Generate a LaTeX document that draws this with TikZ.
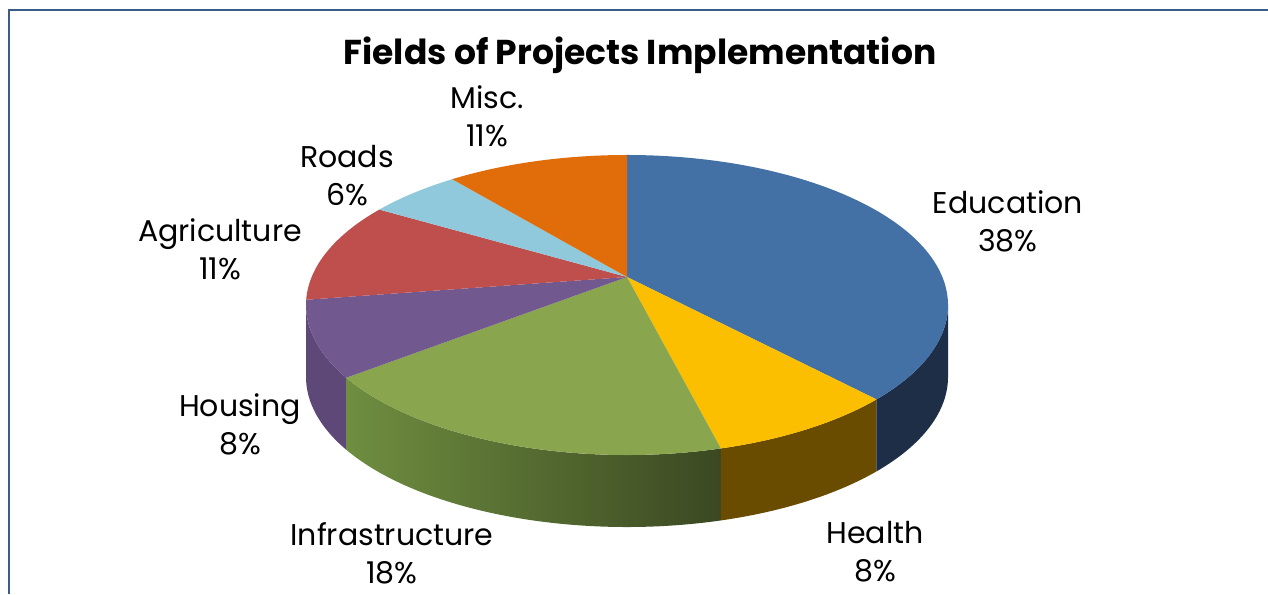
\documentclass[tikz,border=0pt]{standalone}
\usepackage{fontspec}
\setmainfont{Poppins}
\usetikzlibrary{calc}

\definecolor{frameblue}{HTML}{3A5C86}
\definecolor{eduTop}{HTML}{4471A5}
\definecolor{eduSide}{HTML}{1D2E46}
\definecolor{healthTop}{HTML}{FBBF00}
\definecolor{healthSide}{HTML}{6A4C00}
\definecolor{infraTop}{HTML}{89A54E}
\definecolor{infraSideL}{HTML}{6F8E40}
\definecolor{infraSideR}{HTML}{3B4822}
\definecolor{houseTop}{HTML}{71588F}
\definecolor{houseSide}{HTML}{5D4877}
\definecolor{agriTop}{HTML}{BE4F4C}
\definecolor{roadsTop}{HTML}{90C9DB}
\definecolor{miscTop}{HTML}{E06C0A}

\begin{document}
\begin{tikzpicture}[x=1pt, y=1pt,
	lbl/.style={align=center, font=\fontsize{30}{38}\selectfont},
	rim/.style={x radius=321, y radius=150}]

	\useasboundingbox (0,0) rectangle (1268,594);
	\draw[line width=2.5pt, color=frameblue] (9,0) -- (9,584) -- (1268,584);

	\coordinate (C) at (627,289);
	\coordinate (A) at (627,317);

	% sides
	\fill[houseSide] ($(C)+(180:321 and 150)$) arc[start angle=180, end angle=209, rim] -- ++(0,-72) arc[start angle=209, end angle=180, rim] -- cycle;
	\shade[left color=infraSideL, right color=infraSideR] ($(C)+(209:321 and 150)$) arc[start angle=209, end angle=287, rim] -- ++(0,-72) arc[start angle=287, end angle=209, rim] -- cycle;
	\fill[healthSide] ($(C)+(287:321 and 150)$) arc[start angle=287, end angle=321, rim] -- ++(0,-72) arc[start angle=321, end angle=287, rim] -- cycle;
	\fill[eduSide] ($(C)+(321:321 and 150)$) arc[start angle=321, end angle=360, rim] -- ++(0,-72) arc[start angle=360, end angle=321, rim] -- cycle;

	% top faces
	\fill[eduTop] (A) -- ($(C)+(321:321 and 150)$) arc[start angle=321, end angle=450, rim] -- cycle;
	\fill[healthTop] (A) -- ($(C)+(287:321 and 150)$) arc[start angle=287, end angle=321, rim] -- cycle;
	\fill[infraTop] (A) -- ($(C)+(209:321 and 150)$) arc[start angle=209, end angle=287, rim] -- cycle;
	\fill[houseTop] (A) -- ($(C)+(178:321 and 150)$) arc[start angle=178, end angle=209, rim] -- cycle;
	\fill[agriTop] (A) -- ($(C)+(140.5:321 and 150)$) arc[start angle=140.5, end angle=178, rim] -- cycle;
	\fill[roadsTop] (A) -- ($(C)+(123:321 and 150)$) arc[start angle=123, end angle=140.5, rim] -- cycle;
	\fill[miscTop] (A) -- ($(C)+(90:321 and 150)$) arc[start angle=90, end angle=123, rim] -- cycle;

	\node[font=\fontsize{34.5}{40}\selectfont\bfseries] (title) at (640,539) {Fields of Projects Implementation};

	\node[lbl] (misc) at (487,478) {Misc.\\11\%};
	\node[lbl] (roads) at (347,418) {Roads\\6\%};
	\node[lbl] (agri) at (220,345) {Agriculture\\11\%};
	\node[lbl] (housing) at (240,170) {Housing\\8\%};
	\node[lbl] (infra) at (392,41) {Infrastructure\\18\%};
	\node[lbl] (health) at (875,42) {Health\\8\%};
	\node[lbl] (edu) at (1008,373) {Education\\38\%};

\end{tikzpicture}
\end{document}
